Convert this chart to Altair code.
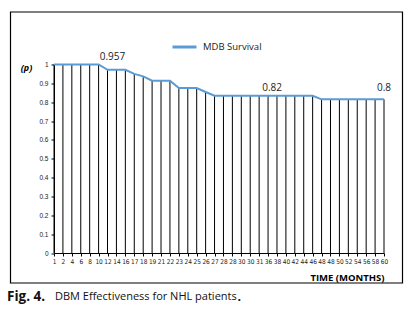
import altair as alt
import pandas as pd

# ---- data ----
months = ["1", "2", "4", "6", "8", "10", "12", "14", "16", "17",
          "18", "19", "21", "22", "23", "24", "25", "26", "27", "28",
          "28", "30", "30", "31", "36", "38", "40", "42", "44", "46",
          "48", "48", "50", "52", "54", "56", "58", "60"]
survival = [1.0, 1.0, 1.0, 1.0, 1.0, 1.0, 0.972, 0.972, 0.972, 0.950,
            0.937, 0.914, 0.914, 0.914, 0.875, 0.875, 0.875, 0.854, 0.834, 0.834,
            0.834, 0.834, 0.834, 0.834, 0.834, 0.834, 0.834, 0.834, 0.834, 0.834,
            0.815, 0.815, 0.815, 0.815, 0.815, 0.815, 0.815, 0.815]
series_name = "MDB Survival"

ann_idx = [6, 24, 37]
ann_val = [0.972, 0.834, 0.815]
ann_text = ["0.957", "0.82", "0.8"]
ann_dx = [5, 4, 0]
ann_dy = [-13, -8, -11]

y_ticks = [0, 0.1, 0.2, 0.3, 0.4, 0.5, 0.6, 0.7, 0.8, 0.9, 1]

df = pd.DataFrame({"idx": list(range(len(months))), "month": months,
                   "p": survival, "zero": 0.0, "series": series_name})
one = pd.DataFrame({"a": [0]})

label_js = "[" + ",".join("'" + m + "'" for m in months) + "][datum.value]"

LINE = "#5B9BD5"
SANS = "Open Sans"
NARROW = "Liberation Sans Narrow, DejaVu Sans Condensed, Liberation Sans"

x_axis = alt.Axis(labelExpr=label_js, labelAngle=0, labelFont=NARROW,
                  labelFontSize=6.5, labelColor="#222", labelPadding=2,
                  labelOverlap=False,
                  tickSize=3, tickColor="black", domainColor="black",
                  tickWidth=1, domainWidth=1,
                  title="TIME (MONTHS)", titleFont=SANS, titleFontSize=9.5,
                  titleFontWeight="bold", titleAnchor="end",
                  titleAlign="right", titleX=330, titleY=24,
                  titleBaseline="middle", titleColor="black")
x_scale = alt.Scale(type="point", padding=0)
y_axis = alt.Axis(values=y_ticks, format="~g", labelFont="Liberation Sans",
                  labelFontSize=6.5, labelColor="#222", labelPadding=3,
                  labelOverlap=False,
                  tickSize=3, tickColor="black", domainColor="black",
                  grid=False, title="(p)", titleAngle=0,
                  titleFont=SANS, titleFontSize=9, titleFontWeight="bold",
                  titleFontStyle="italic", titleX=-28, titleY=2.5,
                  titleAlign="center", titleBaseline="middle",
                  titleColor="black")
y_scale = alt.Scale(domain=[0, 1], nice=False, zero=True)


def X():
    return alt.X("idx:O", scale=x_scale, axis=x_axis)


def Y(field):
    return alt.Y(field, scale=y_scale, axis=y_axis)


base = alt.Chart(df)

drops = base.mark_rule(color="black", strokeWidth=1).encode(
    x=X(), y=Y("zero:Q"), y2="p:Q"
)

line = base.mark_line(strokeWidth=2).encode(
    x=X(), y=Y("p:Q"),
    color=alt.Color("series:N", scale=alt.Scale(range=[LINE]),
                    legend=alt.Legend(orient="none", legendX=117, legendY=-31,
                                      title=None, symbolType="stroke",
                                      symbolSize=576, symbolStrokeWidth=3,
                                      labelFont=SANS, labelFontSize=9.5,
                                      labelColor="#222", labelOffset=5))
)

ann_layers = []
for i, t in enumerate(ann_text):
    a = pd.DataFrame({"idx": [ann_idx[i]], "p": [ann_val[i]], "t": [t]})
    ann_layers.append(
        alt.Chart(a).mark_text(font=SANS, fontSize=10, color="#222",
                               baseline="middle", dx=ann_dx[i], dy=ann_dy[i]).encode(
            x=X(), y=Y("p:Q"), text="t:N")
    )

frame = alt.Chart(one).mark_rect(fill=None, stroke="black", strokeWidth=1.2).encode(
    x=alt.value(-43.5), x2=alt.value(348.5), y=alt.value(-52.5), y2=alt.value(218.5)
)

cap1 = alt.Chart(one).mark_text(text="Fig. 4.", font=SANS, fontSize=13.5,
                                fontWeight="bold", align="left", baseline="middle",
                                color="#111").encode(x=alt.value(-47), y=alt.value(232.5))
cap2 = alt.Chart(one).mark_text(text="DBM Effectiveness for NHL patients", font=SANS,
                                fontSize=11, align="left", baseline="middle",
                                color="#111").encode(x=alt.value(1), y=alt.value(232.5))
cap3 = alt.Chart(one).mark_text(text=".", font=SANS, fontSize=12.5, fontWeight="bold",
                                align="left", baseline="middle",
                                color="#111").encode(x=alt.value(183.5), y=alt.value(232.5))

chart = alt.layer(drops, line, *ann_layers, frame, cap1, cap2, cap3).properties(
    width=330, height=188.5,
    autosize=alt.AutoSizeParams(type="none"),
    padding={"left": 54, "top": 64.5, "right": 30, "bottom": 68},
    background="white"
).configure_view(stroke=None).configure_axis(labelOverlap=False)

chart.save("out.html", embed_options={"renderer": "svg", "actions": False})
